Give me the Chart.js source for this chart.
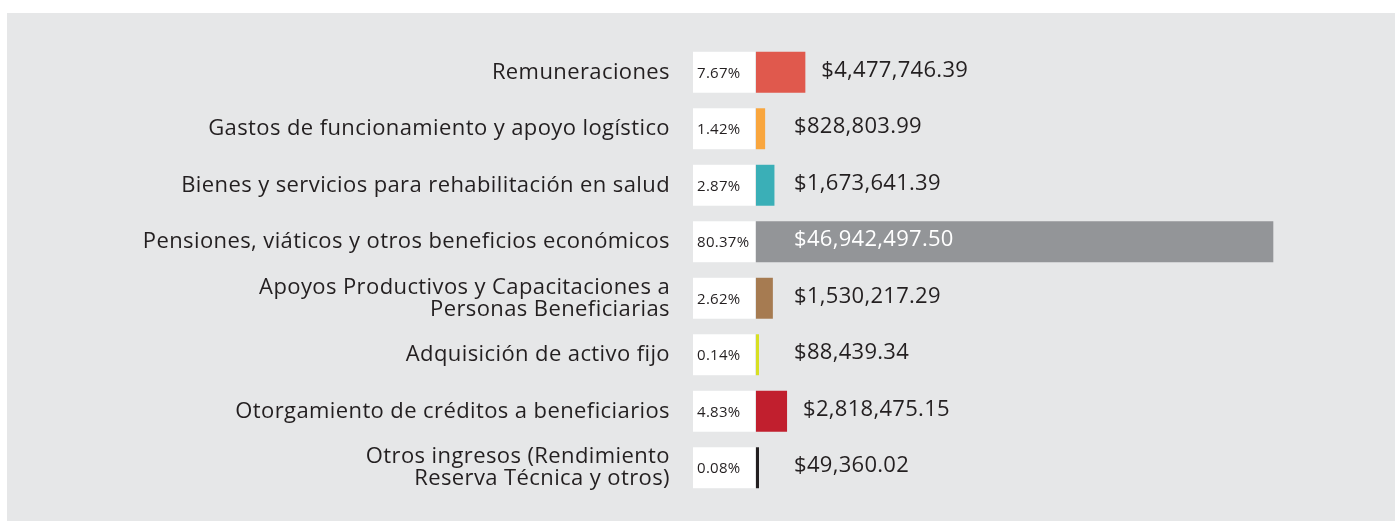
<!DOCTYPE html>
<html lang="es">
<head>
<meta charset="UTF-8">
<title>Distribución del gasto</title>
<script src="https://cdn.jsdelivr.net/npm/chart.js"></script>
<style>
    body {
        margin: 0;
        background: #ffffff;
        width: 1395px;
        height: 521px;
        overflow: hidden;
        position: relative;
        font-family: 'Open Sans', sans-serif;
    }
    .panel {
        position: absolute;
        left: 7px;
        top: 13px;
        width: 1388px;
        height: 508px;
        background: #e6e7e8;
    }
    .panel canvas { display: block; }
</style>
</head>
<body>
<div class="panel"><canvas id="gastoChart" width="1388" height="508"></canvas></div>
<script>
const categories = [
    'Remuneraciones',
    'Gastos de funcionamiento y apoyo logístico',
    'Bienes y servicios para rehabilitación en salud',
    'Pensiones, viáticos y otros beneficios económicos',
    ['Apoyos Productivos y Capacitaciones a', 'Personas Beneficiarias'],
    'Adquisición de activo fijo',
    'Otorgamiento de créditos a beneficiarios',
    ['Otros ingresos (Rendimiento', 'Reserva Técnica y otros)']
];
const amounts = [4477746.39, 828803.99, 1673641.39, 46942497.50, 1530217.29, 88439.34, 2818475.15, 49360.02];
const percents = [7.67, 1.42, 2.87, 80.37, 2.62, 0.14, 4.83, 0.08];
const barColors = ['#e0594d', '#f9a63e', '#3aafb7', '#939598', '#a67b51', '#d7df23', '#c11f2e', '#231f20'];

const TEXT = '#231f20';
const FONT = "'Open Sans', sans-serif";

function money(v) {
    return '$' + v.toLocaleString('en-US', { minimumFractionDigits: 2, maximumFractionDigits: 2 });
}

// white percent boxes left of each bar + amount labels
const boxLabels = {
    id: 'boxLabels',
    beforeDraw(chart) {
        // the original typeface is a bit wider, open it up slightly
        chart.ctx.letterSpacing = '0.4px';
    },
    beforeDatasetsDraw(chart) {
        const ctx = chart.ctx;
        const left = chart.chartArea.left;
        const meta = chart.getDatasetMeta(0);
        ctx.save();
        meta.data.forEach((bar, i) => {
            const top = bar.y - bar.height / 2;
            ctx.fillStyle = '#ffffff';
            ctx.fillRect(left - 63, top, 62, bar.height);
            ctx.fillStyle = TEXT;
            ctx.font = '15px ' + FONT;
            ctx.letterSpacing = '0.3px';
            ctx.textAlign = 'left';
            ctx.textBaseline = 'middle';
            ctx.fillText(percents[i].toFixed(2) + '%', left - 59, bar.y + 1);
        });
        ctx.restore();
    },
    afterDatasetsDraw(chart) {
        const ctx = chart.ctx;
        const left = chart.chartArea.left;
        const meta = chart.getDatasetMeta(0);
        ctx.save();
        ctx.font = '22px ' + FONT;
        ctx.letterSpacing = '0.3px';
        ctx.textAlign = 'left';
        ctx.textBaseline = 'middle';
        meta.data.forEach((bar, i) => {
            const inside = bar.x - left > 200;
            const x = inside ? left + 38 : Math.max(bar.x + 16, left + 38);
            ctx.fillStyle = inside ? '#ffffff' : TEXT;
            ctx.fillText(money(amounts[i]), x, bar.y - 2);
        });
        ctx.restore();
    }
};

new Chart(document.getElementById('gastoChart'), {
    type: 'bar',
    data: {
        labels: categories,
        datasets: [{
            data: amounts,
            backgroundColor: barColors,
            borderWidth: 0,
            barPercentage: 0.725,
            categoryPercentage: 1,
            minBarLength: 3
        }]
    },
    options: {
        indexAxis: 'y',
        responsive: false,
        animation: false,
        layout: { padding: { top: 31, bottom: 25, left: 0, right: 88 } },
        plugins: {
            legend: { display: false },
            tooltip: { enabled: false }
        },
        scales: {
            x: { display: false, min: 0, max: 50000000 },
            y: {
                afterFit(scale) {
                    scale.width = 749;
                    // tick padding would otherwise shrink the plot vertically
                    scale.paddingTop = 0;
                    scale.paddingBottom = 0;
                },
                grid: { display: false, drawTicks: false },
                border: { display: false },
                ticks: {
                    color: TEXT,
                    padding: 86,
                    font: { family: FONT, size: 22, lineHeight: 1.0 }
                }
            }
        }
    },
    plugins: [boxLabels]
});
</script>
</body>
</html>
